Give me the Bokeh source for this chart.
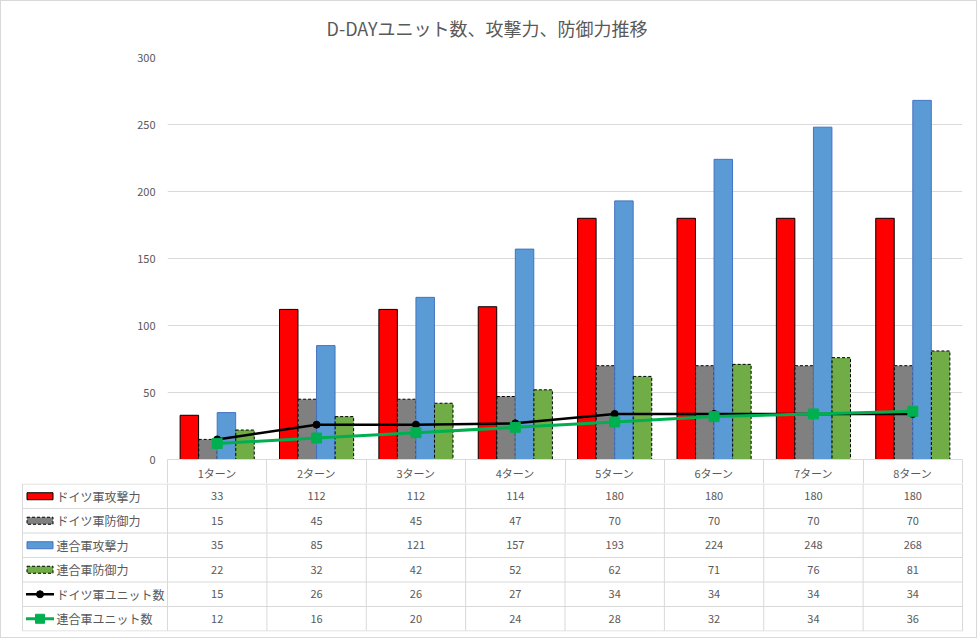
from bokeh.plotting import figure
from bokeh.models import Range1d, FixedTicker, Title
from bokeh.embed import file_html
from bokeh.resources import INLINE

# データ
title_text = "D-DAYユニット数、攻撃力、防御力推移"
turns = ["1ターン", "2ターン", "3ターン", "4ターン", "5ターン", "6ターン", "7ターン", "8ターン"]
german_attack = [33, 112, 112, 114, 180, 180, 180, 180]
german_defense = [15, 45, 45, 47, 70, 70, 70, 70]
allied_attack = [35, 85, 121, 157, 193, 224, 248, 268]
allied_defense = [22, 32, 42, 52, 62, 71, 76, 81]
german_units = [15, 26, 26, 27, 34, 34, 34, 34]
allied_units = [12, 16, 20, 24, 28, 32, 34, 36]

series_names = ["ドイツ軍攻撃力", "ドイツ軍防御力", "連合軍攻撃力", "連合軍防御力",
                "ドイツ軍ユニット数", "連合軍ユニット数"]
y_ticks = [0, 50, 100, 150, 200, 250, 300]

FONT = "Noto Sans CJK JP"
TEXT = "#595959"
GRID = "#d9d9d9"

n = len(turns)
xc = [i + 0.5 for i in range(n)]
cell = 99.375  # 1区分あたりのピクセル幅

# 棒グラフの設定 (値, 塗り, 枠線, 線種, ずらし)
bar_styles = [
    (german_attack, "#FF0000", "black", "solid", -0.28),
    (german_defense, "#808080", "black", "3 2", -0.093),
    (allied_attack, "#5B9BD5", "#4472C4", "solid", 0.093),
    (allied_defense, "#70AD47", "black", "3 2", 0.28),
]
bar_width = 0.186

# ---- 上段: グラフ本体 + 見出し行 ----
p = figure(width=977, height=483, x_range=Range1d(0, n), y_range=Range1d(0, 300),
           output_backend="svg", toolbar_location=None,
           min_border_left=167, min_border_right=15, min_border_top=57, min_border_bottom=24,
           styles={"box-shadow": "inset 1px 1px 0 #d9d9d9, inset -1px 0 0 #d9d9d9"})
p.border_fill_color = None
p.title = Title(text=title_text, align="left", offset=159, vertical_align="top",
                text_font=FONT, text_font_size="18px", text_font_style="normal",
                text_color=TEXT, standoff=29)
p.outline_line_color = None
p.xgrid.visible = False
p.ygrid.grid_line_color = GRID
p.ygrid.ticker = FixedTicker(ticks=y_ticks)

p.yaxis.ticker = FixedTicker(ticks=y_ticks)
p.yaxis.axis_line_color = None
p.yaxis.major_tick_line_color = None
p.yaxis.minor_tick_line_color = None
p.yaxis.major_tick_out = 0
p.yaxis.major_tick_in = 0
p.yaxis.major_label_standoff = 12
p.yaxis.major_label_text_font = FONT
p.yaxis.major_label_text_font_size = "11px"
p.yaxis.major_label_text_color = TEXT

# x軸 = テーブルの見出し行
p.xaxis.ticker = FixedTicker(ticks=xc, minor_ticks=list(range(n + 1)))
p.xaxis.major_label_overrides = {x: t for x, t in zip(xc, turns)}
p.xaxis.axis_line_color = GRID
p.xaxis.major_tick_line_color = None
p.xaxis.major_tick_out = 0
p.xaxis.major_tick_in = 0
p.xaxis.minor_tick_line_color = GRID
p.xaxis.minor_tick_out = 24
p.xaxis.minor_tick_in = 0
p.xaxis.major_label_standoff = -19
p.xaxis.major_label_text_font = FONT
p.xaxis.major_label_text_font_size = "11px"
p.xaxis.major_label_text_color = TEXT

for vals, fill, line, dash, off in bar_styles:
    p.vbar(x=[x + off for x in xc], top=vals, width=bar_width, fill_color=fill,
           line_color=line, line_width=1, line_dash=dash)

p.line(xc, german_units, line_color="black", line_width=2.5)
p.scatter(xc, german_units, marker="circle", size=7, fill_color="black", line_color="black")
p.line(xc, allied_units, line_color="#00B050", line_width=3)
p.scatter(xc, allied_units, marker="square", size=10, fill_color="#00B050", line_color="#00B050")

# ---- 下段: データテーブル ----
left = (22 - 167) / cell
rows = len(series_names)
t = figure(width=977, height=155, x_range=Range1d((20 - 167) / cell, (964 - 167) / cell),
           y_range=Range1d(-0.02, rows + 0.02), output_backend="svg", toolbar_location=None,
           x_axis_location=None, y_axis_location=None,
           min_border_left=20, min_border_right=13, min_border_top=0, min_border_bottom=7,
           styles={"box-shadow": "inset 1px -1px 0 #d9d9d9, inset -1px 0 0 #d9d9d9"})
t.border_fill_color = None
t.grid.visible = False
t.outline_line_color = None

# 罫線
t.segment(x0=[left] * (rows + 1), y0=list(range(rows + 1)),
          x1=[n] * (rows + 1), y1=list(range(rows + 1)),
          line_color=GRID, line_width=1)
t.segment(x0=list(range(n + 1)) + [left], y0=[0] * (n + 2),
          x1=list(range(n + 1)) + [left], y1=[rows] * (n + 2),
          line_color=GRID, line_width=1)

all_series = [german_attack, german_defense, allied_attack, allied_defense,
              german_units, allied_units]
row_y = [rows - 0.5 - k for k in range(rows)]
for k, vals in enumerate(all_series):
    t.text(x=xc, y=[row_y[k]] * n, text=[str(v) for v in vals], text_align="center",
           text_baseline="middle", text_font={"value": FONT}, text_font_size="11px",
           text_color=TEXT)

label_x = (56 - 167) / cell
t.text(x=[label_x] * rows, y=row_y, text=series_names, text_align="left",
       text_baseline="middle", text_font={"value": FONT}, text_font_size="12px",
       text_color=TEXT)

# 凡例キー
key_x = (39.5 - 167) / cell
key_w = 26 / cell
for k, (vals, fill, line, dash, off) in enumerate(bar_styles):
    t.rect(x=key_x, y=row_y[k], width=key_w, height=7, height_units="screen",
           fill_color=fill, line_color=line, line_width=1, line_dash=dash)
line_keys = [("black", "circle", 7, 2.5), ("#00B050", "square", 9, 3)]
for j, (col, marker, size, lw) in enumerate(line_keys):
    yk = row_y[4 + j]
    t.segment(x0=[key_x - key_w / 2 - 1 / cell], y0=[yk], x1=[key_x + key_w / 2 + 1 / cell], y1=[yk],
              line_color=col, line_width=lw)
    t.scatter([key_x], [yk], marker=marker, size=size, fill_color=col, line_color=col)

open("out.html", "w").write(file_html([p, t], INLINE))
